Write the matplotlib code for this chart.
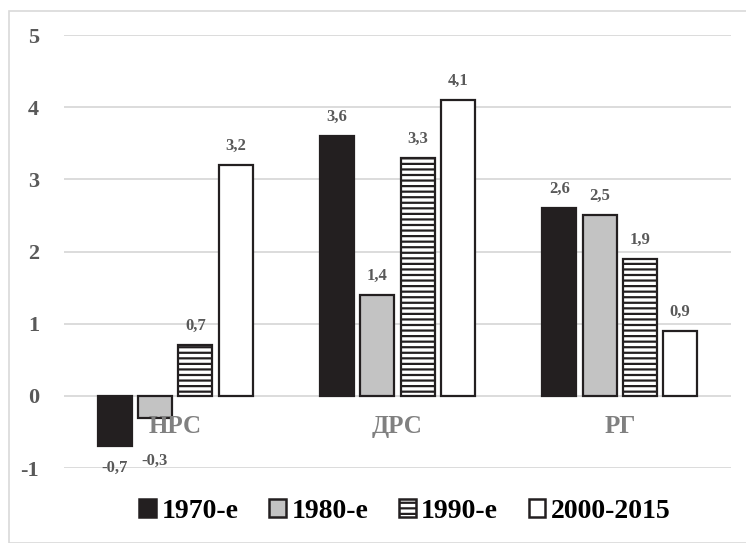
import numpy as np
import matplotlib.pyplot as plt
from matplotlib.patches import Patch, Rectangle

plt.rcParams['font.family'] = ['Liberation Serif', 'DejaVu Serif']
plt.rcParams['font.weight'] = 'bold'
plt.rcParams['hatch.linewidth'] = 1.6
plt.rcParams['axes.unicode_minus'] = False

categories = ['НРС', 'ДРС', 'РГ']
periods = ['1970-е', '1980-е', '1990-е', '2000-2015']
values = [
    [-0.7, 3.6, 2.6],
    [-0.3, 1.4, 2.5],
    [0.7, 3.3, 1.9],
    [3.2, 4.1, 0.9],
]
labels = [
    ['-0,7', '3,6', '2,6'],
    ['-0,3', '1,4', '2,5'],
    ['0,7', '3,3', '1,9'],
    ['3,2', '4,1', '0,9'],
]
fills = ['#231f20', '#c3c3c3', 'white', 'white']
hatches = [None, None, '---', None]

fig = plt.figure(figsize=(7.46, 5.43), dpi=100)
ax = fig.add_axes([0.0858, 0.138, 0.894, 0.7975])

# light frame around chart area
fig.patches.append(Rectangle((9 / 746, 0), 1, 1 - 11 / 543, transform=fig.transFigure,
                             fill=False, edgecolor='#d9d9d9', lw=1.2))

x = np.arange(len(categories))
width = 0.153
step = 0.181
for i in range(len(periods)):
    pos = x + (i - 1.5) * step
    ax.bar(pos, values[i], width, color=fills[i], edgecolor='#231f20',
           linewidth=1.6, hatch=hatches[i], zorder=3)
    for px, v, lab in zip(pos, values[i], labels[i]):
        if v >= 0:
            ax.annotate(lab, (px, v), xytext=(0, 8), textcoords='offset points',
                        ha='center', va='bottom', fontsize=12, color='#595959')
        else:
            ax.text(px, min(v, -0.6) - 0.3, lab, ha='center', va='center',
                    fontsize=12, color='#595959')

for xi, cat in zip(x, categories):
    ax.text(xi, -0.43, cat, ha='center', va='center', fontsize=18, color='#808080',
            zorder=4)

ax.set_xlim(-0.5, 2.5)
ax.set_ylim(-1, 5)
ax.set_yticks(range(-1, 6))
ax.set_xticks([])
ax.yaxis.grid(True, color='#d9d9d9', linewidth=1.3)
ax.set_axisbelow(True)
for s in ax.spines.values():
    s.set_visible(False)
ax.tick_params(axis='y', length=0, pad=18, labelsize=16, labelcolor='#595959')

handles = [Patch(facecolor=fills[i], edgecolor='#231f20', hatch=hatches[i], linewidth=1.8)
           for i in range(len(periods))]
fig.legend(handles, periods, loc='center', bbox_to_anchor=(405 / 746, 1 - 511 / 543),
           ncol=4, frameon=False, fontsize=20, handlelength=0.6, handleheight=0.6,
           handletextpad=0.2, columnspacing=1.1)

fig.savefig('out.png', dpi=100)
